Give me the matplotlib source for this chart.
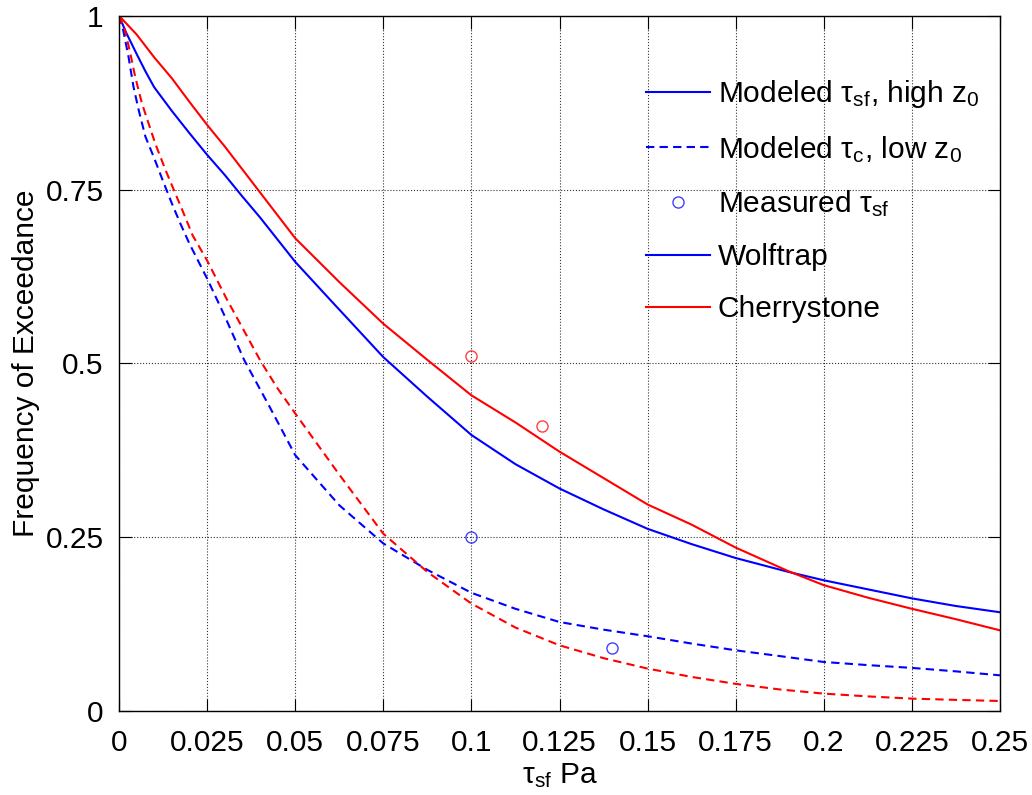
import numpy as np
import matplotlib
matplotlib.use("Agg")
import matplotlib.pyplot as plt
from matplotlib.lines import Line2D

plt.rcParams['font.family'] = ['Liberation Sans', 'DejaVu Sans']
plt.rcParams['mathtext.default'] = 'regular'

# Wolftrap, modeled tau_sf with high z0 (solid blue)
wolf_high_x = [0, 0.002, 0.005, 0.0075, 0.01, 0.015, 0.02, 0.025, 0.03, 0.035, 0.04, 0.05,
               0.06, 0.075, 0.0875, 0.1, 0.1125, 0.125, 0.1375, 0.15, 0.1625, 0.175,
               0.19, 0.2, 0.2125, 0.225, 0.2375, 0.25]
wolf_high_y = [1, 0.976, 0.945, 0.92, 0.897, 0.863, 0.831, 0.80, 0.771, 0.74, 0.71, 0.646,
               0.591, 0.509, 0.452, 0.397, 0.355, 0.32, 0.29, 0.262, 0.24, 0.22,
               0.2, 0.188, 0.175, 0.162, 0.151, 0.142]

# Cherrystone, modeled tau_sf with high z0 (solid red)
cherry_high_x = [0, 0.005, 0.01, 0.015, 0.02, 0.025, 0.03, 0.035, 0.04, 0.05, 0.0625, 0.075,
                 0.0875, 0.1, 0.1125, 0.125, 0.1375, 0.15, 0.1625, 0.175, 0.19, 0.2,
                 0.2125, 0.225, 0.2375, 0.25]
cherry_high_y = [1, 0.973, 0.94, 0.91, 0.876, 0.843, 0.812, 0.779, 0.746, 0.68, 0.617, 0.557,
                 0.505, 0.454, 0.415, 0.373, 0.335, 0.297, 0.268, 0.235, 0.201, 0.181,
                 0.163, 0.147, 0.132, 0.116]

# Wolftrap, modeled tau_c with low z0 (dashed blue)
wolf_low_x = [0, 0.0012, 0.0027, 0.0041, 0.0056, 0.0075, 0.01, 0.0125, 0.015, 0.0175, 0.02,
              0.025, 0.03, 0.0355, 0.043, 0.05, 0.0625, 0.075, 0.0875, 0.1, 0.1125, 0.125,
              0.1375, 0.15, 0.1625, 0.175, 0.1875, 0.2, 0.2125, 0.225, 0.2375, 0.25]
wolf_low_y = [1, 0.979, 0.941, 0.898, 0.864, 0.826, 0.795, 0.762, 0.73, 0.70, 0.672,
              0.622, 0.568, 0.505, 0.435, 0.368, 0.296, 0.241, 0.203, 0.17, 0.147, 0.128,
              0.117, 0.1075, 0.097, 0.0873, 0.079, 0.0705, 0.066, 0.062, 0.057, 0.0513]

# Cherrystone, modeled tau_c with low z0 (dashed red)
cherry_low_x = [0, 0.0017, 0.0032, 0.0046, 0.0065, 0.0084, 0.0103, 0.0132, 0.0156, 0.018,
                0.0209, 0.025, 0.0303, 0.0402, 0.045, 0.05, 0.0625, 0.075, 0.0875, 0.1, 0.1125,
                0.125, 0.1375, 0.15, 0.1625, 0.175, 0.1875, 0.2, 0.2125, 0.225, 0.2375, 0.25]
cherry_low_y = [1, 0.979, 0.946, 0.912, 0.874, 0.845, 0.816, 0.778, 0.749, 0.72,
                0.684, 0.648, 0.595, 0.503, 0.464, 0.428, 0.34, 0.255, 0.2, 0.1545, 0.12,
                0.0945, 0.076, 0.061, 0.049, 0.039, 0.031, 0.025, 0.021, 0.0178, 0.016, 0.0144]

# Measured tau_sf
wolf_meas_x = [0.1, 0.14]
wolf_meas_y = [0.25, 0.09]
cherry_meas_x = [0.1, 0.12]
cherry_meas_y = [0.51, 0.41]

x_ticks = [0, 0.025, 0.05, 0.075, 0.1, 0.125, 0.15, 0.175, 0.2, 0.225, 0.25]
x_tick_labels = ['0', '0.025', '0.05', '0.075', '0.1', '0.125', '0.15', '0.175', '0.2', '0.225', '0.25']
y_ticks = [0, 0.25, 0.5, 0.75, 1]
y_tick_labels = ['0', '0.25', '0.5', '0.75', '1']

BLUE = '#0000ff'
RED = '#ff0000'

fig = plt.figure(figsize=(10.32, 7.95), dpi=100)
ax = fig.add_axes([119 / 1032, 1 - 711 / 795, 881 / 1032, (711 - 15.7) / 795])

lw = 1.5
dash = (4, 2.5)
h_wolf, = ax.plot(wolf_high_x, wolf_high_y, color=BLUE, lw=lw)
ax.plot(cherry_high_x, cherry_high_y, color=RED, lw=lw)
h_wolf_low, = ax.plot(wolf_low_x, wolf_low_y, color=BLUE, lw=lw, linestyle='--', dashes=dash)
ax.plot(cherry_low_x, cherry_low_y, color=RED, lw=lw, linestyle='--', dashes=dash)
h_meas, = ax.plot(wolf_meas_x, wolf_meas_y, 'o', color=BLUE, mfc='none', ms=8, mew=1.0, alpha=0.75)
ax.plot(cherry_meas_x, cherry_meas_y, 'o', color=RED, mfc='none', ms=8, mew=1.0, alpha=0.75)
h_cherry = Line2D([], [], color=RED, lw=lw)

ax.set_xlim(0, 0.25)
ax.set_ylim(0, 1)
ax.set_xticks(x_ticks)
ax.set_xticklabels(x_tick_labels)
ax.set_yticks(y_ticks)
ax.set_yticklabels(y_tick_labels)
ax.tick_params(direction='in', length=9, width=0.8, labelsize=21.5, pad=11,
               top=True, right=True)
ax.tick_params(axis='x', pad=13)

ax.grid(True, linestyle=':', color='black', linewidth=0.8, alpha=0.8)
for s in ax.spines.values():
    s.set_linewidth(1.0)

ax.set_xlabel(r'$\tau_{sf}$ Pa', fontsize=21.5, labelpad=3)
ax.set_ylabel('Frequency of Exceedance', fontsize=21.5, labelpad=4)

handles = [h_wolf, h_wolf_low, h_meas, h_wolf, h_cherry]
labels = [r'Modeled $\tau_{sf}$, high $z_0$',
          r'Modeled $\tau_{c}$, low $z_0$',
          r'Measured $\tau_{sf}$',
          'Wolftrap',
          'Cherrystone']
fig.legend(handles, labels, loc='upper left', bbox_to_anchor=(646 / 1032, 1 - 78 / 795),
           frameon=False, fontsize=21.5, handlelength=2.15, handletextpad=0.25,
           borderpad=0, borderaxespad=0, labelspacing=0.8)

fig.savefig('out.png', dpi=100)
